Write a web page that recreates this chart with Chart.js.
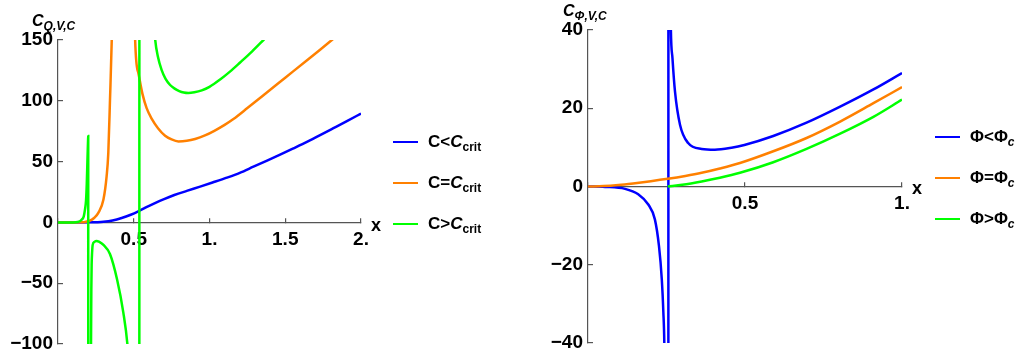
<!DOCTYPE html>
<html>
<head>
<meta charset="utf-8">
<title>C Q,V,C and C Phi,V,C</title>
<script src="https://cdn.jsdelivr.net/npm/chart.js@4.4.1/dist/chart.umd.min.js"></script>
<style>
  body { margin: 0; background: #fff; font-family: "Liberation Sans", Arial, sans-serif; font-weight: bold; color: #000; }
  #page { position: relative; width: 1016px; height: 361px; overflow: hidden; }
  .box { position: absolute; top: 0; }
  .txt { position: absolute; white-space: nowrap; line-height: 1; }
  .title { font-size: 16px; font-style: italic; }
  .xlab { font-size: 18px; }
  .leg { position: absolute; height: 20px; display: flex; align-items: center; font-size: 17px; line-height: 20px; white-space: nowrap; }
  .leg b { display: block; width: 25px; height: 2.5px; margin-right: 10px; }
  sub { font-size: 12px; vertical-align: baseline; position: relative; top: 4px; }
</style>
</head>
<body>
<div id="page">
  <div class="box" style="left:0px"><canvas id="chartQ" width="380" height="361"></canvas></div>
  <div class="box" style="left:530px"><canvas id="chartP" width="400" height="361"></canvas></div>

  <div class="txt title" style="left:32px;top:13px">C<sub>Q,V,C</sub></div>
  <div class="txt title" style="left:563px;top:3px">C<sub>&Phi;,V,C</sub></div>
  <div class="txt xlab" style="left:371px;top:216px">x</div>
  <div class="txt xlab" style="left:912px;top:179px">x</div>
  <div id="legendQ"></div>
  <div id="legendP"></div>
</div>

<script>
// ---- data : left panel (C_Q,V,C) ----
const xTicksQ = [0, 0.5, 1, 1.5, 2];
const yTicksQ = [-100, -50, 0, 50, 100, 150];

const blueQX = [0, 0.1, 0.2, 0.26, 0.3, 0.36, 0.42, 0.48, 0.53, 0.58, 0.64, 0.7, 0.768, 0.85, 0.938, 1.02, 1.114, 1.2, 1.29, 1.38, 1.466, 1.55, 1.643, 1.73, 1.818, 1.91, 2.0];
const blueQY = [0, 0, 0.05, 0.2, 0.5, 1.6, 3.6, 6.3, 9.1, 12.3, 15.9, 19.2, 22.5, 25.9, 29.4, 32.8, 36.8, 40.8, 45.8, 50.8, 55.7, 60.7, 66.3, 71.8, 77.5, 83.5, 89.5];

const orangeQX = [0, 0.1, 0.15, 0.18, 0.211, 0.24, 0.266, 0.3, 0.321, 0.332, 0.343, 0.355, 0.365, 0.38, 0.41, 0.44, 0.47, 0.495, 0.509, 0.531, 0.557, 0.585, 0.619, 0.66, 0.707, 0.75, 0.795, 0.85, 0.905, 0.97, 1.032, 1.1, 1.158, 1.25, 1.35, 1.45, 1.55, 1.65, 1.73, 1.808, 1.9];
const orangeQY = [0, 0, 0.1, 0.4, 1.4, 3.8, 7.8, 18.8, 38, 57, 100, 151, 220, 400, 1200, 3000, 1200, 300, 151, 122.5, 105.9, 94, 85.2, 77.5, 71.3, 68.2, 66.6, 67.1, 68.6, 71.5, 75.3, 80.2, 85, 94, 104, 114, 124, 134, 142, 150, 159.5];

const greenQX = [0, 0.1, 0.13, 0.156, 0.17, 0.178, 0.185, 0.19, 0.193, 0.196, 0.1985, 0.1995, 0.2005, 0.21, 0.214, 0.218, 0.22, 0.222, 0.225, 0.229, 0.24, 0.255, 0.27, 0.3, 0.343, 0.39, 0.431, 0.458, 0.48, 0.5, 0.52, 0.534, 0.54, 0.55, 0.57, 0.6, 0.641, 0.66, 0.685, 0.71, 0.74, 0.77, 0.8, 0.83, 0.861, 0.9, 0.949, 1.0, 1.07, 1.135, 1.202, 1.28, 1.356, 1.45];
const greenQY = [0, 0, 0.3, 2.2, 5, 10.5, 18, 32, 45, 58, 68, 71, -3000, -800, -300, -100, -55, -35, -25, -18.5, -16, -15.2, -15.8, -18.5, -26, -47, -74, -100, -140, -220, -500, -3000, 3000, 1000, 400, 230, 151, 136, 125, 118, 113, 110, 108, 106.8, 106.4, 107, 108.6, 111.5, 117.5, 124, 131.5, 140.5, 150, 162];

const legendQ = ['C&lt;<i>C</i><sub>crit</sub>', 'C=<i>C</i><sub>crit</sub>', 'C&gt;<i>C</i><sub>crit</sub>'];

// ---- data : right panel (C_Phi,V,C) ----
const xTicksP = [0, 0.5, 1];
const yTicksP = [-40, -20, 0, 20, 40];

const bluePX = [0, 0.054, 0.118, 0.16, 0.192, 0.213, 0.226, 0.235, 0.24, 0.243, 0.248, 0.252, 0.2555, 0.2565, 0.259, 0.261, 0.264, 0.269, 0.277, 0.293, 0.319, 0.362, 0.404, 0.457, 0.498, 0.59, 0.696, 0.803, 0.909, 1.0];
const bluePY = [0, -0.1, -0.6, -2, -4.6, -8.4, -15.2, -23.7, -32.2, -40, -80, -200, -3000, 3000, 150, 60, 40, 32.8, 24.3, 15.8, 11.1, 9.6, 9.4, 9.9, 10.6, 12.9, 16.3, 20.4, 24.8, 29];

const orangePX = [0, 0.05, 0.097, 0.15, 0.2, 0.254, 0.31, 0.362, 0.42, 0.484, 0.59, 0.696, 0.803, 0.909, 1.0];
const orangePY = [0, 0.1, 0.38, 0.85, 1.35, 1.96, 2.7, 3.5, 4.6, 6, 9, 12.4, 16.6, 21.3, 25.4];

const greenPX = [0.254, 0.3, 0.362, 0.42, 0.484, 0.59, 0.696, 0.803, 0.909, 1.0];
const greenPY = [0, 0.45, 1.3, 2.25, 3.5, 6.2, 9.6, 13.5, 17.8, 22.2];

const legendP = ['&Phi;&lt;&Phi;<sub><i>c</i></sub>', '&Phi;=&Phi;<sub><i>c</i></sub>', '&Phi;&gt;&Phi;<sub><i>c</i></sub>'];

const colors = ['#0000ff', '#ff8000', '#00ff00'];
const axisColor = '#555';

function points(xs, ys) {
  return xs.map(function(x, k) { return { x: x, y: ys[k] }; });
}

function fmtX(v) {
  if (v === 0) return '';
  return Number.isInteger(v) ? v + '.' : String(v);
}

function fmtY(v) {
  return String(v).replace('-', '\u2212');
}

function makeChart(id, sets, xMax, yMin, yMax, xTicks, yTicks, pad) {
  var ctx = document.getElementById(id).getContext('2d');
  var tickFont = { family: 'Liberation Sans', size: 19, weight: 'bold' };
  return new Chart(ctx, {
    type: 'line',
    data: {
      datasets: sets.map(function(d, i) {
        return {
          data: d,
          borderColor: colors[i],
          borderWidth: 2.5,
          pointRadius: 0,
          cubicInterpolationMode: 'monotone',
          capBezierPoints: false,
          order: sets.length - i   // green drawn on top, like the original
        };
      })
    },
    options: {
      responsive: false,
      animation: false,
      events: [],
      layout: { padding: pad },
      plugins: { legend: { display: false }, tooltip: { enabled: false } },
      scales: {
        x: {
          type: 'linear', min: 0, max: xMax,
          position: { y: 0 },
          afterBuildTicks: function(s) { s.ticks = xTicks.map(function(v) { return { value: v }; }); },
          afterFit: function(s) { s.height = 0; s.paddingLeft = 0; s.paddingRight = 0; },
          ticks: { callback: fmtX, font: tickFont, color: '#000', padding: 11, maxRotation: 0, autoSkip: false },
          grid: { drawOnChartArea: false, tickLength: -5, color: axisColor, lineWidth: 1.2 },
          border: { color: axisColor, width: 1.2 }
        },
        y: {
          type: 'linear', min: yMin, max: yMax,
          afterBuildTicks: function(s) { s.ticks = yTicks.map(function(v) { return { value: v }; }); },
          afterFit: function(s) { s.width = 58; s.paddingTop = 0; s.paddingBottom = 0; },
          ticks: { callback: fmtY, font: tickFont, color: '#000', padding: 10, autoSkip: false },
          grid: { drawOnChartArea: false, tickLength: -5, color: axisColor, lineWidth: 1.2 },
          border: { color: axisColor, width: 1.2 }
        }
      }
    }
  });
}

// legend rows are plain html, the labels have sub/italic parts
function makeLegend(id, labels, left, tops) {
  var el = document.getElementById(id);
  labels.forEach(function(txt, i) {
    var row = document.createElement('div');
    row.className = 'leg';
    row.style.left = left + 'px';
    row.style.top = (tops[i] - 10) + 'px';
    row.innerHTML = '<b style="background:' + colors[i] + '"></b><span>' + txt + '</span>';
    el.appendChild(row);
  });
}

makeChart('chartQ',
  [points(blueQX, blueQY), points(orangeQX, orangeQY), points(greenQX, greenQY)],
  2, -100, 150, xTicksQ, yTicksQ, { top: 40, right: 19, bottom: 17, left: 0 });

makeChart('chartP',
  [points(bluePX, bluePY), points(orangePX, orangePY), points(greenPX, greenPY)],
  1, -40, 40, xTicksP, yTicksP, { top: 30, right: 28, bottom: 18, left: 0 });

makeLegend('legendQ', legendQ, 393, [142, 183, 224]);
makeLegend('legendP', legendP, 935, [137, 178, 219]);
</script>
</body>
</html>
